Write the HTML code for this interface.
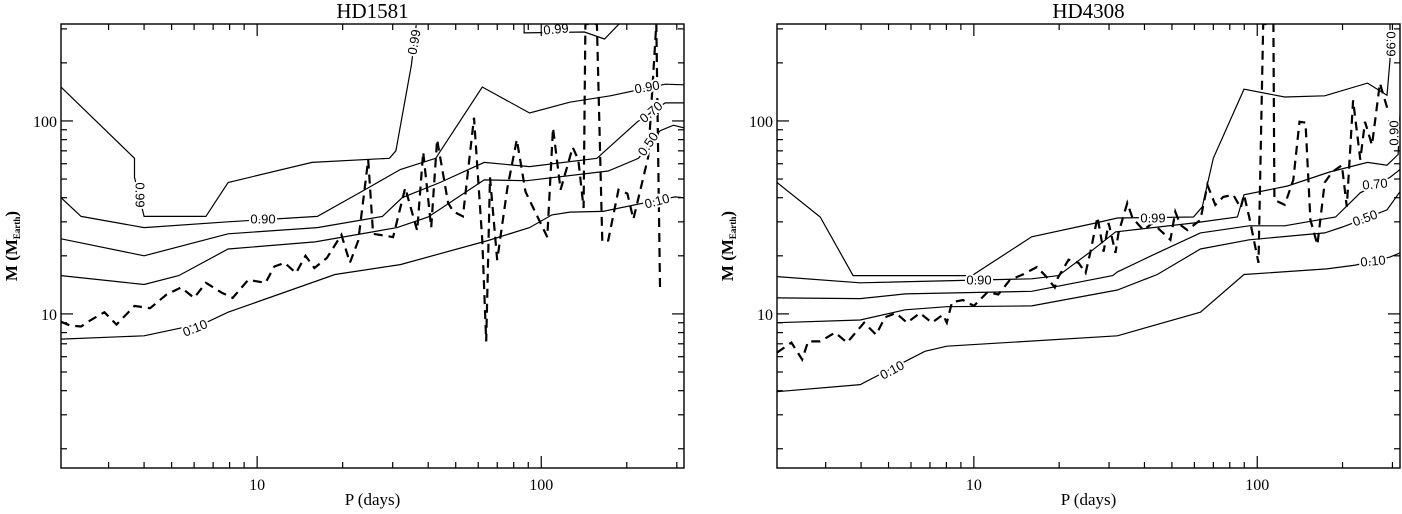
<!DOCTYPE html>
<html><head><meta charset="utf-8">
<style>
html,body{margin:0;padding:0;background:#fff;}
svg{display:block;}
.tick{stroke:#000;stroke-width:1.2;}
.frame{fill:none;stroke:#000;stroke-width:1.4;}
.contour{fill:none;stroke:#000;stroke-width:1.2;}
.dash{fill:none;stroke:#000;stroke-width:2.2;stroke-dasharray:9,6;}
.ticklab{font-family:"Liberation Serif",serif;font-size:16px;}
.axlab{font-family:"Liberation Serif",serif;font-size:17px;}
.title{font-family:"Liberation Serif",serif;font-size:21px;}
.clab{font-family:"Liberation Sans",sans-serif;font-size:13px;stroke:#fff;stroke-width:4px;paint-order:stroke;fill:#000;}
</style></head>
<body>
<svg id="chart" width="1402" height="514" viewBox="0 0 1402 514" xmlns="http://www.w3.org/2000/svg"></svg>
<script>
// ---- HD1581 (left panel) data: [period days, mass M_Earth]
const hd1581_c99 = [[2.04,150],[3.7,64],[3.7,51],[4.0,32],[6.6,32],[7.9,48],[15.6,61],[29.2,64],[30.8,70],[34.9,195],[36.3,314]];
const hd1581_c99top = [[87,318],[87,286],[142,289],[167,266],[188,318]];
const hd1581_c90 = [[2.04,40],[2.4,32],[4.0,28],[7.9,30],[16.3,32],[24.6,45],[31.9,56],[42.5,64],[62,150],[91,110],[126,125],[175,135],[273,155],[318,154]];
const hd1581_c70 = [[2.04,24.5],[4.0,20],[7.9,26],[16.3,28],[27.6,32],[32.4,40],[44,48],[63,61],[91,58],[157,64],[218,99],[273,124],[318,124]];
const hd1581_c50 = [[2.04,15.8],[4.0,14.2],[5.3,15.8],[7.9,21.7],[16.0,23.6],[31.1,28],[40,31.8],[63,49.5],[89,49],[172,55],[220,64],[262,89],[292,95],[318,92]];
const hd1581_c10 = [[2.04,7.4],[4.0,7.7],[6.6,9.0],[7.9,10.2],[18.8,16],[31.9,18],[65,24],[91,28],[109,32.6],[126,33.7],[165,34],[218,37],[296,40.4],[318,40]];
const hd1581_dashed = [[2.04,9.1],[2.2,8.7],[2.4,8.6],[2.6,9.3],[2.9,10.2],[3.2,8.8],[3.7,11.0],[4.2,10.7],[4.8,12.6],[5.4,13.7],[6.0,12.1],[6.6,14.5],[7.5,12.9],[8.2,12.1],[9.3,15],[10.7,14.5],[11.5,17.6],[12.5,18.4],[13.7,16.3],[14.8,20],[15.9,17.3],[17.6,19.5],[19.8,25.7],[21.2,18.4],[22.7,24],[24.6,63],[25.6,26],[30.1,25],[33.2,45],[36.6,27],[38.4,69],[41,28],[43,80],[47,37.6],[49,34],[53,32],[58,104],[62,24],[64,7.2],[66,51],[70,19],[76,45],[82,80],[88,43],[105,25],[110,92],[117,44],[129,73],[135,63],[141,35.4],[143,318],[157,318],[164,23.6],[172,24],[187,44],[201,42],[211,31],[238,65],[254,318],[262,12.9]];

// ---- HD4308 (right panel) data
const hd4308_c99 = [[2.02,48],[2.87,31.8],[3.75,15.8],[9.84,15.8],[16.0,25.1],[26.9,29.6],[32.1,31.4],[59.6,31.8],[64,35.9],[70,64],[89.8,146],[125,133],[173,135],[245,157],[287,136],[294,207],[294,318]];
const hd4308_c90 = [[2.02,15.6],[3.97,14.5],[16.0,15.2],[19.9,15.8],[25.8,21],[31.6,26.6],[59.6,29.6],[85.1,31.8],[89.8,41.4],[128,46],[180,54.4],[245,61],[287,59],[314,67],[319,107]];
const hd4308_c70 = [[2.02,12.1],[3.97,12.0],[5.72,12.7],[16.0,13.1],[30.9,15.8],[32.1,16.5],[44.4,20.7],[63,26.3],[93.7,28.6],[125,28.6],[189,31.8],[231,42.4],[294,51],[319,56]];
const hd4308_c50 = [[2.02,9.0],[3.97,9.3],[5.72,10.5],[8.03,10.9],[16.0,11.0],[32.1,13.3],[44.4,16.0],[63,21.7],[93.7,24.2],[173,26.3],[200,28.2],[287,34.6],[319,43]];
const hd4308_c10 = [[2.02,3.95],[3.97,4.3],[6.72,6.4],[8.03,6.8],[32.1,7.7],[63,10.2],[89.8,16.0],[176,17.1],[222,17.9],[294,19.7],[319,20.7]];
const hd4308_dashed = [[2.02,6.3],[2.27,7.1],[2.48,5.8],[2.60,7.2],[2.87,7.2],[3.24,8.0],[3.57,7.1],[4.10,9.0],[4.52,7.8],[4.86,9.6],[5.31,10.1],[5.81,9.0],[6.45,10.1],[7.11,9.0],[7.78,9.9],[8.03,9.0],[8.37,11.5],[9.15,11.8],[10,11.0],[11.2,13.0],[12.2,12.6],[13.4,15.0],[14.9,16.0],[16.7,17.5],[18.0,15.6],[19.3,13.7],[19.8,15.4],[21.6,19.1],[23.4,18.4],[24.8,16.3],[25.8,21],[27.3,31.8],[28.7,21],[29.9,29.6],[31.6,20.7],[32.4,26.3],[34.8,37.6],[36.3,31.4],[39.7,27.2],[42.7,29.6],[49.4,24.2],[51.4,33.8],[53.6,28.9],[56.7,27.2],[63,30.7],[66.7,46.6],[71.1,36.7],[75.9,40.4],[82.3,41.4],[87.4,35.4],[89.8,41.4],[93.7,31.8],[101,18.4],[105,318],[114,318],[115,39],[125,36.7],[134,49.5],[141,99],[148,98],[154,30.7],[163,22.8],[173,48],[184,54.4],[199,59],[207,35.9],[218,128],[231,63],[240,99],[254,75],[271,157],[289,114]];

const majorXTicks = [10, 100];
const majorXLabels = ["10", "100"];
const majorYTicks = [10, 100];
const majorYLabels = ["10", "100"];

const svg = document.getElementById('chart');
const NS = 'http://www.w3.org/2000/svg';
function mk(tag, attrs, parent) {
  const e = document.createElementNS(NS, tag);
  for (const k in attrs) e.setAttribute(k, attrs[k]);
  (parent || svg).appendChild(e);
  return e;
}

function panel(cfg) {
  const g = mk('g', {});
  
  
  const lx0 = Math.log10(cfg.xmin), lx1 = Math.log10(cfg.xmax);
  const ly0 = Math.log10(cfg.ymin), ly1 = Math.log10(cfg.ymax);
  const xs = p => cfg.x0 + (Math.log10(p) - lx0) / (lx1 - lx0) * (cfg.x1 - cfg.x0);
  const ys = m => cfg.y1 - (Math.log10(m) - ly0) / (ly1 - ly0) * (cfg.y1 - cfg.y0);

  const clip = mk('clipPath', {id: cfg.name + '-clip'}, g);
  mk('rect', {x: cfg.x0, y: cfg.y0, width: cfg.x1 - cfg.x0, height: cfg.y1 - cfg.y0}, clip);

  for (let d = 1; d <= 1000; d *= 10) {
    for (let k = 1; k <= 9; k++) {
      const v = d * k;
      if (v < cfg.xmin || v > cfg.xmax) continue;
      const x = xs(v);
      const len = (k === 1) ? 12 : 6;
      const t1 = mk('line', {x1: x, x2: x, y1: cfg.y1, y2: cfg.y1 - len, class: 'tick'}, g);
      
      
      const t2 = mk('line', {x1: x, x2: x, y1: cfg.y0, y2: cfg.y0 + len, class: 'tick'}, g);
      
      
    }
  }
  majorXTicks.forEach((v, i) => {
    const t = mk('text', {x: xs(v), y: cfg.y1 + 22, 'text-anchor': 'middle', class: 'ticklab'}, g);
    t.textContent = majorXLabels[i];
    
    
  });
  for (let d = 1; d <= 1000; d *= 10) {
    for (let k = 1; k <= 9; k++) {
      const v = d * k;
      if (v < cfg.ymin || v > cfg.ymax) continue;
      const y = ys(v);
      const len = (k === 1) ? 12 : 6;
      const t1 = mk('line', {x1: cfg.x0, x2: cfg.x0 + len, y1: y, y2: y, class: 'tick'}, g);
      
      
      const t2 = mk('line', {x1: cfg.x1, x2: cfg.x1 - len, y1: y, y2: y, class: 'tick'}, g);
      
      
    }
  }
  majorYTicks.forEach((v, i) => {
    const t = mk('text', {x: cfg.x0 - 4, y: ys(v) + 6, 'text-anchor': 'end', class: 'ticklab'}, g);
    t.textContent = majorYLabels[i];
    
    
  });

  const plot = mk('g', {'clip-path': 'url(#' + cfg.name + '-clip)'}, g);
  cfg.contours.forEach(c => {
    const p = mk('polyline', {points: c.data.map(d => xs(d[0]).toFixed(1) + ',' + ys(d[1]).toFixed(1)).join(' '), class: 'contour'}, plot);
    
    
  });
  const dl = mk('polyline', {points: cfg.dashed.map(d => xs(d[0]).toFixed(1) + ',' + ys(d[1]).toFixed(1)).join(' '), class: 'dash'}, plot);
  
  

  cfg.labels.forEach(l => {
    const t = mk('text', {x: l[0], y: l[1], 'text-anchor': 'middle', 'dominant-baseline': 'central', class: 'clab', transform: 'rotate(' + l[3] + ' ' + l[0] + ' ' + l[1] + ')'}, plot);
    t.textContent = l[2];
    
    
  });

  const fr = mk('rect', {x: cfg.x0, y: cfg.y0, width: cfg.x1 - cfg.x0, height: cfg.y1 - cfg.y0, class: 'frame'}, g);
  
  

  const cx = (cfg.x0 + cfg.x1) / 2;
  const ti = mk('text', {x: cx, y: 18, 'text-anchor': 'middle', class: 'title'}, g);
  ti.textContent = cfg.title;
  
  
  const xl = mk('text', {x: cx, y: 505, 'text-anchor': 'middle', class: 'axlab'}, g);
  xl.textContent = 'P (days)';
  
  
  const yx = cfg.x0 - 44, yy = 246;
  const yl = mk('text', {x: yx, y: yy, 'text-anchor': 'middle', class: 'axlab', 'font-size': '14', 'font-weight': 'bold', transform: 'rotate(-90 ' + yx + ' ' + yy + ')'}, g);
  
  
  yl.appendChild(document.createTextNode('M  (M'));
  const sub = mk('tspan', {'font-size': '9', dy: '3'}, yl);
  sub.textContent = 'Earth';
  const cl = mk('tspan', {dy: '-3'}, yl);
  cl.textContent = ')';
}

panel({name: 'panel-hd1581', title: 'HD1581', x0: 61, x1: 684, y0: 24, y1: 468, xmin: 2.04, xmax: 318, ymin: 1.59, ymax: 318,
  contours: [
    {name: 'contour-0.99', data: hd1581_c99},
    {name: 'contour-0.99-top', data: hd1581_c99top},
    {name: 'contour-0.90', data: hd1581_c90},
    {name: 'contour-0.70', data: hd1581_c70},
    {name: 'contour-0.50', data: hd1581_c50},
    {name: 'contour-0.10', data: hd1581_c10}],
  dashed: hd1581_dashed,
  labels: [[140, 195, '0.99', 90], [414, 42, '0.99', -80], [556, 29, '0.99', -5], [263, 219, '0.90', 0], [647, 87, '0.90', -10],
           [651, 112, '0.70', -40], [648, 144, '0.50', -55], [195, 328, '0.10', -22], [657, 201, '0.10', -15]]
});
panel({name: 'panel-hd4308', title: 'HD4308', x0: 777, x1: 1400, y0: 24, y1: 468, xmin: 2.02, xmax: 319, ymin: 1.59, ymax: 318,
  contours: [
    {name: 'contour-0.99', data: hd4308_c99},
    {name: 'contour-0.90', data: hd4308_c90},
    {name: 'contour-0.70', data: hd4308_c70},
    {name: 'contour-0.50', data: hd4308_c50},
    {name: 'contour-0.10', data: hd4308_c10}],
  dashed: hd4308_dashed,
  labels: [[1391, 44, '0.99', 90], [1394, 133, '0.90', -90], [979, 280, '0.90', 0], [1153, 218, '0.99', 0],
           [1375, 184, '0.70', -5], [1365, 218, '0.50', -20], [1373, 261, '0.10', -5], [892, 370, '0.10', -28]]
});
</script>
</body></html>
